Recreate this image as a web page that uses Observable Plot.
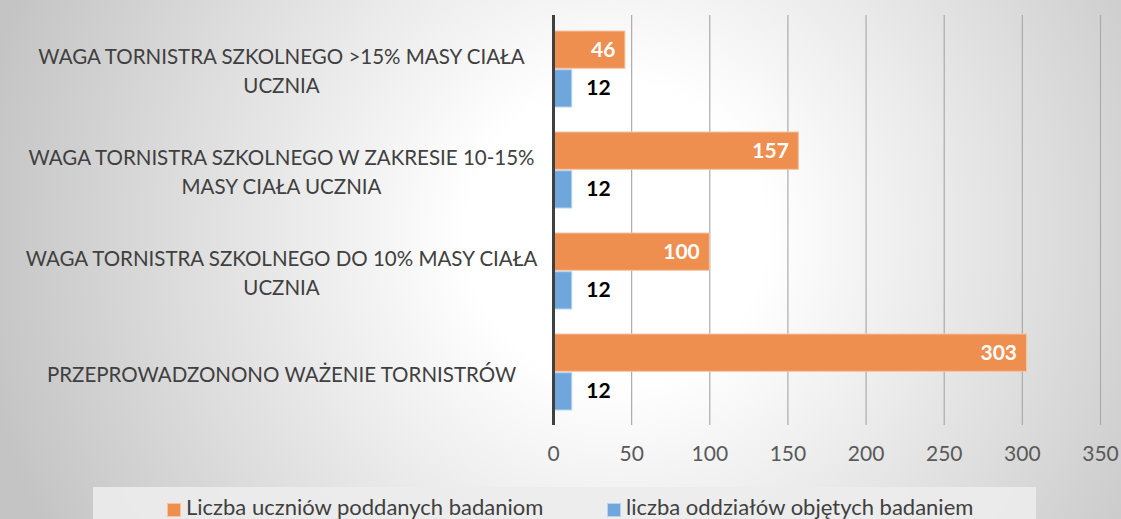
<!DOCTYPE html>
<html>
<head>
<meta charset="utf-8">
<script src="https://cdn.jsdelivr.net/npm/d3@7"></script>
<script src="https://cdn.jsdelivr.net/npm/@observablehq/plot@0.6"></script>
<style>
  html, body { margin: 0; padding: 0; }
  body {
    width: 1121px; height: 519px; overflow: hidden; position: relative;
    background: radial-gradient(circle farthest-corner at 55% 45%, #ffffff 22%, #c4c4c4 95%);
    font-family: Lato, "Open Sans", sans-serif;
  }
  #chart { position: absolute; left: 0; top: 0; }
  #legend {
    position: absolute; left: 93px; top: 487px; width: 943px; height: 32px;
    background: rgba(236,236,236,0.9);
    font-size: 22px; color: #404040;
  }
  .sw { position: absolute; top: 16px; width: 12px; height: 12px; }
  .lt { position: absolute; top: 4px; line-height: 32px; white-space: nowrap; }
</style>
</head>
<body>
<div id="chart"></div>
<div id="legend"></div>
<script>
// ---- data ----
const categories = [
  "WAGA TORNISTRA SZKOLNEGO >15% MASY CIAŁA UCZNIA",
  "WAGA TORNISTRA SZKOLNEGO W ZAKRESIE 10-15% MASY CIAŁA UCZNIA",
  "WAGA TORNISTRA SZKOLNEGO DO 10% MASY CIAŁA UCZNIA",
  "PRZEPROWADZONONO WAŻENIE TORNISTRÓW"
];
const categoryLines = [
  "WAGA TORNISTRA SZKOLNEGO >15% MASY CIAŁA\nUCZNIA",
  "WAGA TORNISTRA SZKOLNEGO W ZAKRESIE 10-15%\nMASY CIAŁA UCZNIA",
  "WAGA TORNISTRA SZKOLNEGO DO 10% MASY CIAŁA\nUCZNIA",
  "PRZEPROWADZONONO WAŻENIE TORNISTRÓW"
];
const seriesNames = ["Liczba uczniów poddanych badaniom", "liczba oddziałów objętych badaniem"];
const students = [46, 157, 100, 303];
const classes = [12, 12, 12, 12];
const xTicks = [0, 50, 100, 150, 200, 250, 300, 350];
const seriesColors = ["#EE8E4F", "#6FA7DC"];
const seriesStrokes = ["#F7C4A0", "#B9D4EF"];

const rowsStudents = categories.map((c, i) => ({category: c, series: seriesNames[0], value: students[i]}));
const rowsClasses = categories.map((c, i) => ({category: c, series: seriesNames[1], value: classes[i]}));
const labelOf = new Map(categories.map((c, i) => [c, categoryLines[i]]));

// ---- layout ----
const W = 1121, H = 486, mT = 15, mB = 61, mL = 553, mR = 21;
const pInner = 0.25, pOuter = 0.137;
const step = (H - mT - mB) / (categories.length - pInner + 2 * pOuter);
const bw = step * (1 - pInner);
const half = bw / 2;

const chart = Plot.plot({
  width: W, height: H,
  marginTop: mT, marginBottom: mB, marginLeft: mL, marginRight: mR,
  style: {background: "transparent", fontFamily: "Lato, 'Open Sans', sans-serif", overflow: "visible"},
  x: {domain: [0, 350]},
  y: {domain: categories, paddingInner: pInner, paddingOuter: pOuter, align: 0.5},
  marks: [
    Plot.ruleX(xTicks.filter(d => d > 0), {stroke: "#ababab", strokeWidth: 1.2}),
    Plot.barX(rowsStudents, {x: "value", y: "category", fill: seriesColors[0], stroke: seriesStrokes[0], strokeWidth: 1, insetBottom: half + 0.5}),
    Plot.barX(rowsClasses, {x: "value", y: "category", fill: seriesColors[1], stroke: seriesStrokes[1], strokeWidth: 1, insetTop: half + 0.5}),
    Plot.ruleX([0], {stroke: "#404040", strokeWidth: 3}),
    Plot.text(rowsStudents, {x: "value", y: "category", text: d => String(d.value), dy: -bw / 4, dx: -10, textAnchor: "end", fill: "white", fontWeight: "bold", fontSize: 21}),
    Plot.text(rowsClasses, {x: "value", y: "category", text: d => String(d.value), dy: bw / 4, dx: 14, textAnchor: "start", fill: "black", fontWeight: "bold", fontSize: 21}),
    Plot.axisY({tickSize: 0, tickPadding: 0, dx: -272, textAnchor: "middle", lineHeight: 1.37, fontSize: 20.5, color: "#404040", tickFormat: d => labelOf.get(d), label: null}),
    Plot.axisX({ticks: xTicks, tickSize: 0, tickPadding: 21, fontSize: 21, color: "#595959", label: null, tickFormat: d => String(d)})
  ]
});
document.getElementById("chart").appendChild(chart);

// ---- legend ----
const legend = document.getElementById("legend");
const swatchLeft = [74, 514];
seriesNames.forEach((name, i) => {
  const sw = document.createElement("div");
  sw.className = "sw";
  sw.style.left = swatchLeft[i] + "px";
  sw.style.background = seriesColors[i];
  sw.style.border = "1px solid " + seriesStrokes[i];
  legend.appendChild(sw);
  const t = document.createElement("div");
  t.className = "lt";
  t.style.left = (swatchLeft[i] + 19) + "px";
  t.textContent = name;
  legend.appendChild(t);
});
</script>
</body>
</html>
